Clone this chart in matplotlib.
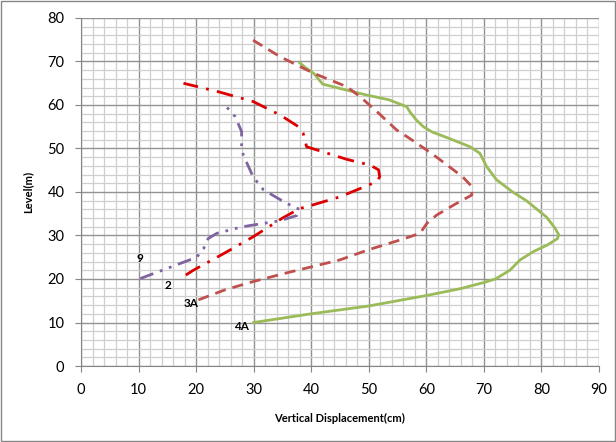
import matplotlib
matplotlib.use('Agg')
import matplotlib.pyplot as plt
from matplotlib.ticker import MultipleLocator

# series (x = vertical displacement cm, y = level m)
x_4a = [30, 35, 40, 50, 60, 66, 70, 72, 74.5, 76.3, 78.6, 81, 82.8, 83, 82.3, 80.9, 77.4, 75, 72.2, 70.5, 69.3, 67.6,
        64, 61, 59.5, 58.3, 57.2, 56.6, 53.5, 49.6, 45, 42, 40.4, 39, 38]
y_4a = [10, 11, 12, 13.8, 16.2, 17.8, 19.2, 20, 22, 24.4, 26.3, 27.8, 29.3, 30.2, 31.8, 34.2, 38, 40, 42.8, 45.8, 48.9, 50.4,
        52.3, 53.8, 55, 56.5, 58.3, 59.6, 61.2, 62.3, 63.8, 64.8, 67.3, 68.6, 69.7]

x_3a = [20.4, 25, 29.9, 35.4, 45, 49.9, 56, 58.9, 60.1, 61.8, 65, 67.9, 67.8, 66.3, 64.7, 62, 60, 57, 54.8, 51.4, 48.5, 46.2,
        40.4, 34.6, 29.9]
y_3a = [15.2, 17.5, 19.4, 21.3, 24.4, 26.7, 29.2, 30.5, 32.8, 34.7, 37.2, 39.3, 41.4, 43.5, 45.1, 47.8, 49.7, 52.4, 54.3, 58.5, 61.9, 64.2,
        67.3, 71.1, 74.9]

x_2 = [18.2, 19.5, 25, 29.9, 35, 38, 39.2, 45, 48.5, 51.4, 51.9, 51.7, 50.2, 46.2, 40.9, 39.2, 38.6, 37.8, 34.6, 29.9, 24, 17.8]
y_2 = [20.9, 22, 26, 29.7, 34, 36.2, 36.6, 38.9, 40.8, 42.4, 43.5, 45.1, 46.2, 47.5, 49.7, 50.4, 53.5, 55, 57.7, 60.8, 63, 65]

x_9 = [10.3, 13.1, 18.9, 20.1, 21.3, 22.1, 23.6, 28, 34.6, 37.5, 38, 35.7, 31.7, 29.9, 28.2, 27.9, 27.9, 26.8, 25]
y_9 = [20.1, 21.5, 24.4, 25, 27, 29.3, 30.5, 32, 33.4, 34.6, 36, 37.4, 40.5, 43.5, 48.5, 50.4, 53.9, 57.3, 60]

labels = ['9', '2', '3A', '4A']
label_x = [10.2, 15.1, 19.1, 27.8]
label_y = [24.8, 18.4, 14.3, 9.0]

plt.rcParams['font.family'] = ['Lato', 'DejaVu Sans']

fig = plt.figure(figsize=(6.16, 4.42), dpi=100)
ax = fig.add_axes([81 / 616, 1 - 366 / 442, 518 / 616, 348 / 442])

ax.set_xlim(0, 90)
ax.set_ylim(0, 80)
ax.xaxis.set_major_locator(MultipleLocator(10))
ax.yaxis.set_major_locator(MultipleLocator(10))
ax.xaxis.set_minor_locator(MultipleLocator(2))
ax.yaxis.set_minor_locator(MultipleLocator(2))
ax.grid(True, which='minor', color='#cfcfcf', lw=0.9)
ax.grid(True, which='major', color='#929292', lw=1.0)
ax.set_axisbelow(True)

for s in ['top', 'right']:
    ax.spines[s].set_visible(False)
for s in ['left', 'bottom']:
    ax.spines[s].set_color('#868686')
ax.tick_params(which='major', length=4, color='#868686', labelsize=10.5, pad=8)
ax.tick_params(which='minor', length=0)

ax.plot(x_4a, y_4a, color='#9BBB59', lw=2)
ax.plot(x_3a, y_3a, color='#C0504D', lw=2, dashes=(4, 2.5))
ax.plot(x_2, y_2, color='#DD0000', lw=2, dashes=(6, 3, 1, 3))
ax.plot(x_9, y_9, color='#8064A2', lw=2, dashes=(5, 2.5, 1, 2.5, 1, 2.5))

for t, lx, ly in zip(labels, label_x, label_y):
    ax.text(lx, ly, t, fontsize=8.5, fontweight='bold', ha='center', va='center')

ax.set_xlabel('Vertical Displacement(cm)', fontsize=8, fontweight='bold', labelpad=12)
ax.set_ylabel('Level(m)', fontsize=8, fontweight='bold', labelpad=10)

fig.patches.append(plt.Rectangle((0.002, 0.002), 0.996, 0.996, transform=fig.transFigure,
                                 fill=False, edgecolor='#868686', lw=1))

fig.savefig('out.png', dpi=100)
